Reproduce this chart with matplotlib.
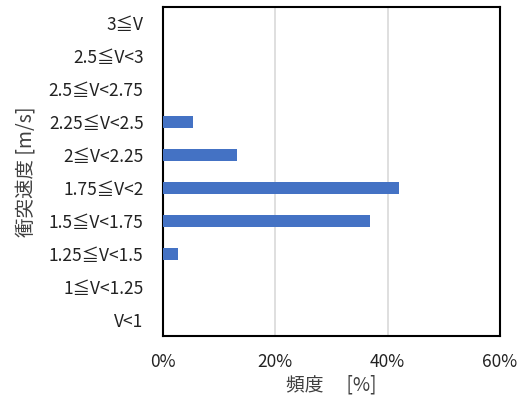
import matplotlib.pyplot as plt
import numpy as np

categories = ["V<1", "1≦V<1.25", "1.25≦V<1.5", "1.5≦V<1.75", "1.75≦V<2",
              "2≦V<2.25", "2.25≦V<2.5", "2.5≦V<2.75", "2.5≦V<3", "3≦V"]
freq = [0.0, 0.0, 2.6, 36.8, 42.1, 13.2, 5.3, 0.0, 0.0, 0.0]
xticks = [0, 20, 40, 60]

plt.rcParams['font.family'] = ['Noto Sans CJK JP', 'DejaVu Sans']


def main() -> None:
    fig = plt.figure(figsize=(5.2, 4.05), dpi=100)
    ax = fig.add_axes([163 / 520, 1 - 336 / 405, 337 / 520, 329 / 405])

    y = np.arange(len(categories))
    ax.barh(y, freq, height=0.36, color="#4472C4", zorder=3)
    ax.set_ylim(-0.5, len(categories) - 0.5)
    ax.set_xlim(0, 60)
    ax.set_yticks(y)
    ax.set_yticklabels(categories, fontsize=12.5, color="#222222")
    ax.set_xticks(xticks)
    ax.set_xticklabels([f"{v}%" for v in xticks], fontsize=12.5, color="#222222")
    ax.tick_params(length=0)
    ax.tick_params(axis="x", pad=12)
    ax.tick_params(axis="y", pad=14)
    ax.grid(axis="x", color="#d9d9d9", linewidth=1.2, zorder=0)
    for s in ax.spines.values():
        s.set_color("black")
        s.set_linewidth(1.5)

    ax.set_xlabel("頻度　 [%]", fontsize=13.5, color="#404040", labelpad=3)
    ax.set_ylabel("衝突速度 [m/s]", fontsize=14, color="#404040", labelpad=8)

    fig.savefig("out.png", dpi=100)


if __name__ == "__main__":
    main()
